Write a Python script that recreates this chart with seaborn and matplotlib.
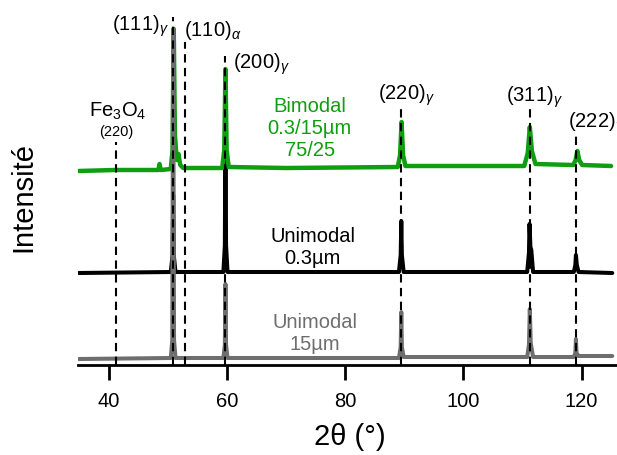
import matplotlib
matplotlib.use("Agg")
import matplotlib.pyplot as plt
import seaborn as sns

# XRD patterns (intensity in arbitrary units, offset per sample)
two_theta_grey = [34.9, 50.5, 50.75, 50.9, 51.05, 51.3, 59.4, 59.65, 59.75, 59.85, 60.1,
                  89.1, 89.4, 89.5, 89.6, 89.9, 110.8, 111.1, 111.25, 111.4, 111.8,
                  118.7, 118.95, 119.05, 119.15, 119.5, 125.2]
intensity_grey = [6, 7, 25, 336, 25, 7, 7, 20, 81, 20, 7,
                  7, 18, 53, 18, 8, 8, 20, 56, 22, 8,
                  8, 12, 26, 12, 9, 9]

two_theta_black = [34.9, 50.5, 50.8, 50.9, 51.0, 51.3, 59.4, 59.65, 59.75, 59.85, 60.1,
                   89.1, 89.4, 89.5, 89.6, 89.9, 110.8, 111.1, 111.2, 111.35, 111.5, 111.8,
                   118.7, 118.95, 119.05, 119.2, 119.5, 125.2]
intensity_black = [92, 93, 110, 170, 110, 93, 93, 120, 262, 120, 93,
                   93, 110, 144, 110, 93, 93, 112, 141, 118, 115, 93,
                   93, 100, 110, 100, 93, 92]

two_theta_green = [34.9, 41.0, 48.4, 48.6, 48.8, 50.5, 50.8, 51.0, 51.2, 51.5, 51.8, 52.1, 52.6,
                   59.2, 59.55, 59.75, 59.95, 60.3, 70.0, 88.9, 89.3, 89.55, 89.8, 90.2,
                   110.3, 110.9, 111.25, 111.6, 112.2, 118.6, 119.0, 119.3, 119.6, 120.1, 125.0]
intensity_green = [194, 195, 195, 201, 195, 196, 215, 336, 230, 205, 211, 200, 197,
                   197, 215, 296, 215, 198, 197, 198, 210, 243, 210, 199,
                   199, 212, 238, 214, 201, 200, 205, 214, 205, 200, 199]

# reference peak positions and the top of their dashed markers
peak_pos = [41.2, 50.95, 52.9, 59.75, 89.5, 111.2, 119.1]
peak_top = [223, 348, 323, 309, 259, 256, 229]

sns.set_theme(style="white")
plt.rcParams["font.family"] = ["Liberation Sans", "DejaVu Sans"]
plt.rcParams["text.color"] = "black"
plt.rcParams["mathtext.fontset"] = "custom"
plt.rcParams["mathtext.rm"] = "Liberation Sans"
plt.rcParams["mathtext.it"] = "Liberation Sans:italic"

green = "#0f9e0f"
grey = "#6e6e6e"

fig = plt.figure(figsize=(6.17, 4.56), dpi=100)
ax = fig.add_axes([78 / 617, 90 / 456, 539 / 617, 356 / 456])

sns.lineplot(x=two_theta_black, y=intensity_black, ax=ax, color="black",
             linewidth=2.9, estimator=None, sort=False)
sns.lineplot(x=two_theta_green, y=intensity_green, ax=ax, color=green,
             linewidth=3.2, estimator=None, sort=False)
sns.lineplot(x=two_theta_grey, y=intensity_grey, ax=ax, color=grey,
             linewidth=2.9, estimator=None, sort=False)

ax.vlines(peak_pos, 0, peak_top, colors="black", linewidth=1.5,
          linestyles=(0, (4, 2.6)), zorder=5)

# peak labels
fs = 14.5
ax.text(40.5, 335, r"(111)$_\gamma$", fontsize=fs, va="baseline")
ax.text(52.7, 330, r"(110)$_\alpha$", fontsize=fs, va="baseline")
ax.text(61.0, 297, r"(200)$_\gamma$", fontsize=fs, va="baseline")
ax.text(85.5, 266, r"(220)$_\gamma$", fontsize=fs, va="baseline")
ax.text(107.3, 264, r"(311)$_\gamma$", fontsize=fs, va="baseline")
ax.text(117.7, 238, r"(222)$_\gamma$", fontsize=fs, va="baseline", clip_on=False)
ax.text(36.6, 249, r"Fe$_3$O$_4$", fontsize=fs, va="baseline")
ax.text(41.35, 230, "(220)", fontsize=10.5, va="baseline", ha="center")

# sample labels
ax.text(74.0, 238, "Bimodal\n0.3/15µm\n75/25", fontsize=fs, color=green,
        ha="center", va="center", linespacing=1.2)
ax.text(74.5, 118, "Unimodal\n0.3µm", fontsize=fs, color="black",
        ha="center", va="center", linespacing=1.2)
ax.text(74.9, 32, "Unimodal\n15µm", fontsize=fs, color=grey,
        ha="center", va="center", linespacing=1.2)

ax.set_xlim(34.8, 126)
ax.set_ylim(0, 356)
ax.set_xticks([40, 60, 80, 100, 120])
ax.set_yticks([])

for side in ["left", "top", "right"]:
    ax.spines[side].set_visible(False)
ax.spines["bottom"].set_linewidth(2)
ax.spines["bottom"].set_color("black")
ax.tick_params(axis="x", bottom=True, direction="out", length=11, width=2,
               color="black", labelsize=fs, pad=8, labelcolor="black")

ax.set_xlabel("2θ (°)", fontsize=21, color="black")
ax.xaxis.set_label_coords(0.505, -0.16)
ax.set_ylabel("Intensité", fontsize=21, color="black")
ax.yaxis.set_label_coords(-0.075, 0.475)

fig.savefig("out.png", dpi=100)
